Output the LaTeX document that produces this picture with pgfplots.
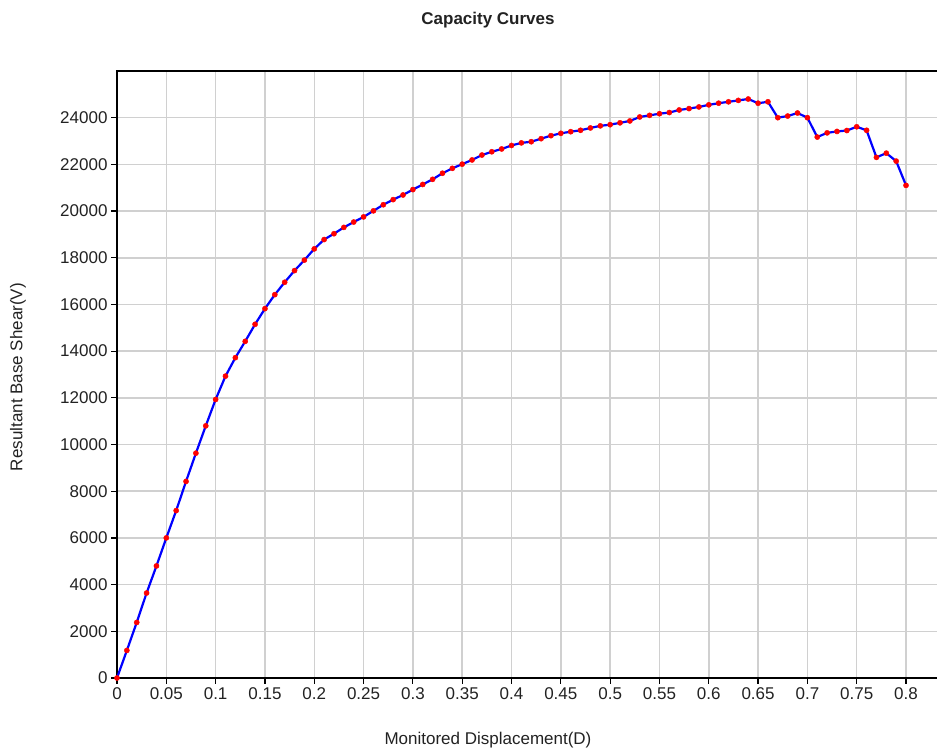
\documentclass[border=0pt]{standalone}
\usepackage{pgfplots}
\pgfplotsset{compat=1.18}
\usepackage{pgfplotstable}
\usepackage{fontspec}
\setmainfont{Liberation Sans}
\definecolor{gridgray}{HTML}{D0D0D0}
\definecolor{txt}{HTML}{222222}
\pgfplotstableread{
x y
0 0
0.01 1180
0.02 2380
0.03 3640
0.04 4800
0.05 6000
0.06 7170
0.07 8420
0.08 9630
0.09 10800
0.10 11930
0.11 12930
0.12 13720
0.13 14420
0.14 15150
0.15 15820
0.16 16420
0.17 16950
0.18 17450
0.19 17900
0.20 18380
0.21 18780
0.22 19030
0.23 19300
0.24 19530
0.25 19750
0.26 20010
0.27 20270
0.28 20490
0.29 20690
0.30 20920
0.31 21140
0.32 21360
0.33 21620
0.34 21830
0.35 22010
0.36 22190
0.37 22400
0.38 22540
0.39 22660
0.40 22810
0.41 22920
0.42 22970
0.43 23100
0.44 23230
0.45 23330
0.46 23400
0.47 23460
0.48 23560
0.49 23650
0.50 23700
0.51 23780
0.52 23860
0.53 24030
0.54 24100
0.55 24170
0.56 24220
0.57 24330
0.58 24390
0.59 24460
0.60 24550
0.61 24620
0.62 24680
0.63 24740
0.64 24800
0.65 24620
0.66 24680
0.67 24000
0.68 24070
0.69 24200
0.70 24000
0.71 23170
0.72 23350
0.73 23410
0.74 23450
0.75 23610
0.76 23460
0.77 22300
0.78 22480
0.79 22140
0.80 21100
}\capdata
\begin{document}
\begin{tikzpicture}[x=1pt,y=1pt]
\useasboundingbox (0,0) rectangle (937,754);
\begin{axis}[
  name=ax,
  at={(117pt,76pt)}, anchor=south west,
  scale only axis, width=820pt, height=607pt,
  xmin=0, xmax=0.8314, ymin=0, ymax=26000,
  scaled x ticks=false, scaled y ticks=false,
  xtick={0,0.05,0.1,0.15,0.2,0.25,0.3,0.35,0.4,0.45,0.5,0.55,0.6,0.65,0.7,0.75,0.8},
  xticklabels={0,0.05,0.1,0.15,0.2,0.25,0.3,0.35,0.4,0.45,0.5,0.55,0.6,0.65,0.7,0.75,0.8},
  ytick={0,2000,4000,6000,8000,10000,12000,14000,16000,18000,20000,22000,24000},
  yticklabels={0,2000,4000,6000,8000,10000,12000,14000,16000,18000,20000,22000,24000},
  axis x line*=bottom, axis y line*=left,
  axis line style={black, line width=2.2pt},
  grid=major, major grid style={gridgray, line width=1.5pt},
  tick align=outside, major tick length=6pt,
  tick style={black, line width=1.2pt},
  tick label style={font=\fontsize{17}{20}\selectfont, text=txt},
  /pgf/number format/assume math mode=true,
  clip=false,
]
\addplot[only marks, mark=*, mark size=2.6pt, mark options={draw=red, fill=red}] table {\capdata};
\addplot[blue, line width=2.2pt, mark=none] table {\capdata};
\end{axis}
\draw[black, line width=2.2pt] ([xshift=-1.1pt]ax.north west) -- ([xshift=20pt]ax.north east);
\node[font=\fontsize{17}{20}\selectfont\bfseries, text=txt] at (488,734) {Capacity Curves};
\node[font=\fontsize{17}{20}\selectfont, text=txt] at (488,14) {Monitored Displacement(D)};
\node[font=\fontsize{17}{20}\selectfont, text=txt, rotate=90] at (18,377) {Resultant Base Shear(V)};
\end{tikzpicture}
\end{document}
